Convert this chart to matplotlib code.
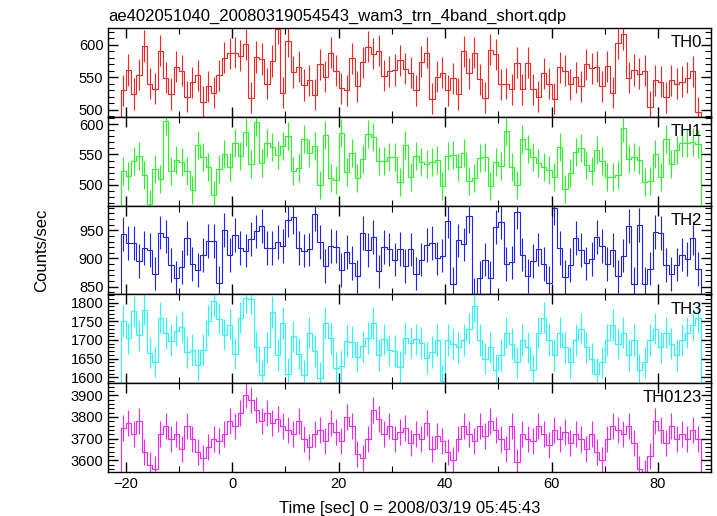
import numpy as np
import matplotlib
matplotlib.use('Agg')
import matplotlib.pyplot as plt
from matplotlib.ticker import MultipleLocator

plt.rcParams['font.family'] = ['Liberation Sans', 'DejaVu Sans']

TITLE = 'ae402051040_20080319054543_wam3_trn_4band_short.qdp'
T_START = -21   # first bin edge [s], 1 s bins

th0 = [530, 561, 524, 554, 598, 540, 532, 591, 549, 524, 566, 560, 520, 542, 553, 512,
       536, 526, 553, 580, 587, 588, 583, 601, 518, 581, 578, 540, 575, 625, 526, 605,
       558, 566, 538, 545, 523, 570, 551, 588, 560, 533, 530, 579, 536, 573, 597, 586,
       591, 552, 559, 561, 576, 563, 557, 530, 574, 588, 517, 551, 557, 530, 548, 524,
       590, 556, 588, 547, 518, 592, 585, 539, 540, 531, 572, 531, 572, 531, 520, 556,
       540, 517, 565, 560, 539, 550, 536, 570, 564, 566, 536, 567, 526, 602, 616, 549,
       561, 555, 560, 504, 545, 543, 519, 545, 540, 543, 549, 559, 496]
th1 = [523, 515, 539, 548, 516, 468, 526, 510, 605, 523, 541, 537, 523, 491, 566, 545,
       529, 484, 526, 551, 529, 569, 548, 587, 534, 604, 536, 568, 563, 549, 564, 580,
       523, 528, 575, 553, 564, 500, 582, 512, 508, 585, 521, 553, 512, 543, 583, 578,
       539, 539, 545, 545, 505, 566, 513, 547, 537, 535, 537, 541, 498, 548, 549, 529,
       552, 507, 511, 544, 546, 498, 537, 531, 589, 530, 499, 576, 559, 545, 536, 529,
       524, 513, 563, 493, 519, 554, 560, 532, 522, 558, 539, 513, 513, 517, 593, 543,
       546, 541, 505, 507, 551, 513, 575, 535, 558, 568, 569, 571, 567]
th2 = [943, 927, 927, 896, 918, 915, 873, 946, 939, 888, 866, 885, 936, 890, 879, 906,
       931, 931, 857, 951, 906, 942, 918, 914, 934, 948, 958, 919, 918, 929, 922, 968,
       974, 918, 914, 916, 979, 929, 886, 922, 921, 880, 911, 892, 868, 945, 915, 938,
       877, 920, 916, 898, 917, 886, 916, 873, 898, 924, 927, 900, 905, 966, 855, 932,
       925, 975, 835, 865, 898, 865, 956, 965, 890, 893, 983, 907, 869, 895, 916, 890,
       856, 990, 918, 867, 888, 936, 915, 891, 899, 938, 922, 890, 915, 868, 905, 958,
       855, 960, 854, 882, 947, 945, 888, 872, 889, 907, 899, 936, 881]
th3 = [1752, 1704, 1777, 1712, 1781, 1666, 1642, 1760, 1718, 1698, 1725, 1736, 1667, 1673, 1633, 1674,
       1752, 1804, 1757, 1714, 1741, 1663, 1760, 1813, 1811, 1682, 1605, 1680, 1775, 1660, 1745, 1610,
       1710, 1663, 1605, 1720, 1670, 1598, 1745, 1705, 1625, 1630, 1697, 1695, 1655, 1683, 1705, 1745,
       1660, 1702, 1672, 1670, 1628, 1705, 1693, 1702, 1692, 1652, 1668, 1700, 1590, 1700, 1688, 1680,
       1700, 1730, 1790, 1700, 1650, 1680, 1620, 1660, 1720, 1690, 1640, 1700, 1680, 1620, 1720, 1760,
       1700, 1660, 1720, 1680, 1640, 1700, 1730, 1680, 1650, 1610, 1640, 1700, 1740, 1690, 1720, 1660,
       1700, 1620, 1640, 1700, 1730, 1680, 1720, 1690, 1660, 1700, 1720, 1740, 1760]
th0123 = [3750, 3770, 3720, 3780, 3640, 3580, 3560, 3720, 3760, 3700, 3720, 3650, 3760, 3700, 3640, 3610,
          3660, 3700, 3690, 3720, 3780, 3760, 3820, 3900, 3880, 3830, 3780, 3820, 3770, 3790, 3760, 3740,
          3720, 3780, 3700, 3660, 3720, 3740, 3690, 3770, 3730, 3690, 3800, 3760, 3630, 3610, 3700, 3830,
          3790, 3720, 3760, 3700, 3730, 3750, 3680, 3720, 3700, 3770, 3650, 3710, 3690, 3640, 3600, 3700,
          3760, 3720, 3690, 3760, 3710, 3780, 3740, 3700, 3650, 3760, 3590, 3720, 3700, 3690, 3760, 3720,
          3670, 3740, 3700, 3730, 3680, 3720, 3700, 3650, 3720, 3640, 3600, 3700, 3760, 3740, 3720, 3760,
          3680, 3560, 3540, 3620, 3780, 3740, 3680, 3760, 3700, 3720, 3700, 3740, 3700]

names = ['TH0', 'TH1', 'TH2', 'TH3', 'TH0123']
colors = ['#ff2020', '#20ff20', '#2020ff', '#20ffff', '#ff20ff']
errs = [24, 23, 30, 42, 60]
ylims = [(489, 626), (466, 612), (836, 994), (1584, 1822), (3545, 3955)]
ymajor = [50, 50, 50, 50, 100]
yminor = [10, 10, 10, 10, 20]

fig = plt.figure(figsize=(7.17, 5.16), dpi=100)
gs = fig.add_gridspec(5, 1, left=0.151, right=0.992, top=0.946, bottom=0.085, hspace=0)

for i, y in enumerate([th0, th1, th2, th3, th0123]):
    ax = fig.add_subplot(gs[i])
    y = np.array(y, dtype=float)
    edges = T_START + np.arange(len(y) + 1)
    centers = edges[:-1] + 0.5
    ax.stairs(y, edges, color=colors[i], lw=0.8)
    ax.errorbar(centers, y, yerr=errs[i], fmt='none', ecolor=colors[i], elinewidth=0.8, capsize=0)
    ax.set_xlim(-23.3, 90)
    ax.set_ylim(*ylims[i])
    ax.xaxis.set_major_locator(MultipleLocator(20))
    ax.xaxis.set_minor_locator(MultipleLocator(10))
    ax.yaxis.set_major_locator(MultipleLocator(ymajor[i]))
    ax.yaxis.set_minor_locator(MultipleLocator(yminor[i]))
    ax.tick_params(which='both', direction='in', top=True, right=True, labelsize=10.5)
    ax.tick_params(which='major', length=7, width=1)
    ax.tick_params(which='minor', length=4, width=0.8)
    for sp in ax.spines.values():
        sp.set_linewidth(1.0)
    ax.text(0.985, 0.92, names[i], transform=ax.transAxes, ha='right', va='top', fontsize=12)
    if i < 4:
        ax.tick_params(labelbottom=False)
    if i == 0:
        ax.set_title(TITLE, loc='left', fontsize=12, pad=5)

fig.text(0.058, 0.515, 'Counts/sec', rotation=90, ha='center', va='center', fontsize=12)
fig.text(0.571, 0.0, 'Time [sec] 0 = 2008/03/19 05:45:43', ha='center', va='bottom', fontsize=12)

fig.savefig('out.png', dpi=100)
plt.close(fig)
